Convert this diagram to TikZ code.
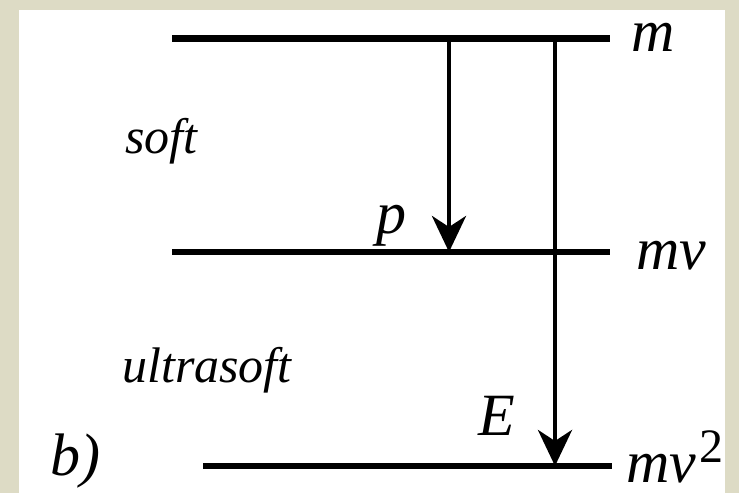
\documentclass[tikz,border=0pt]{standalone}
\usepackage{fontspec}
\setmainfont{Liberation Serif}
\usetikzlibrary{arrows.meta}
\definecolor{bgbeige}{RGB}{221,219,197}
\begin{document}
\begin{tikzpicture}[x=1pt,y=-1pt,
  level/.style={line width=6.5pt},
  trans/.style={line width=4.5pt,-{Stealth[length=36pt,width=34pt,inset=11pt]}},
  lbl/.style={font=\fontsize{50}{50}\selectfont\itshape, inner sep=0pt, anchor=base west},
  sym/.style={font=\fontsize{60}{60}\selectfont\itshape, inner sep=0pt, anchor=base west},
  ]
\fill[bgbeige] (0,0) rectangle (739,493);
\fill[white] (19,10) rectangle (725,493);
\useasboundingbox (0,0) rectangle (739,493);
% level lines
\coordinate (t1) at (172,38.5);
\coordinate (t2) at (610,38.5);
\coordinate (m1) at (172,252);
\coordinate (m2) at (610,252);
\coordinate (b1) at (203,466);
\coordinate (b2) at (612,466);
\draw[level] (t1) -- (t2);
\draw[level] (m1) -- (m2);
\draw[level] (b1) -- (b2);
% arrows
\coordinate (ps) at (449,38.5);
\coordinate (pe) at (449,252);
\coordinate (es) at (555,38.5);
\coordinate (ee) at (555,466);
\draw[trans] (ps) -- (pe);
\draw[trans] (es) -- (ee);
% labels
\node[sym] (lm) at (631,51) {m};
\node[sym] (lmv) at (636,269) {mv};
\node[sym] (lmv2) at (626,482) {mv\upshape\hspace{3pt}\raisebox{20pt}{\fontsize{48}{48}\selectfont 2}};
\node[lbl] (lsoft) at (125,153) {soft};
\node[lbl] (lultra) at (122,382) {ultrasoft};
\node[sym] (lp) at (376,233) {p};
\node[sym] (lE) at (478,435) {E};
\node[sym] (lb) at (50,475) {b)};
\end{tikzpicture}
\end{document}
